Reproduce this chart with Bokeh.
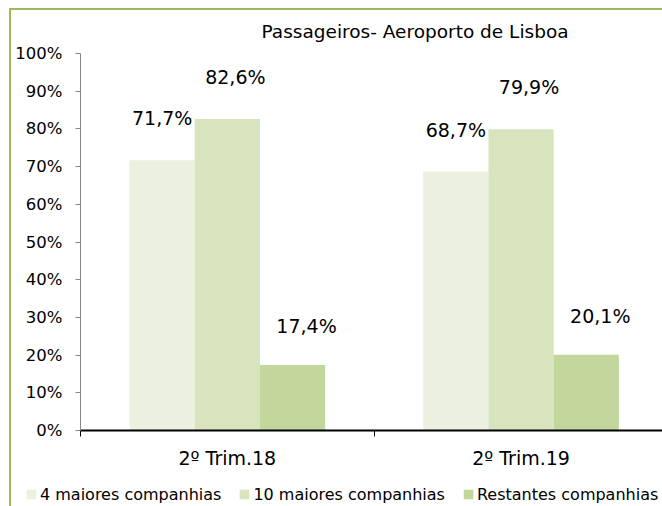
from bokeh.plotting import figure
from bokeh.layouts import column
from bokeh.models import ColumnDataSource, FixedTicker, Range1d, Legend, LegendItem
from bokeh.core.properties import value
from bokeh.embed import file_html
from bokeh.resources import INLINE

# ---- data ----
categories = ["2º Trim.18", "2º Trim.19"]
series_names = ["4 maiores companhias", "10 maiores companhias", "Restantes companhias"]
maiores4 = [71.7, 68.7]
maiores10 = [82.6, 79.9]
restantes = [17.4, 20.1]
y_ticks = [0, 10, 20, 30, 40, 50, 60, 70, 80, 90, 100]
y_tick_labels = ["0%", "10%", "20%", "30%", "40%", "50%", "60%", "70%", "80%", "90%", "100%"]
title_text = "Passageiros- Aeroporto de Lisboa"

# ---- styles ----
FONT = "DejaVu Sans"
colors = ["#EBF1DE", "#D7E4BD", "#C3D69B"]
bar_w = 0.222
bar_shift = [-bar_w, 0.0, bar_w]
label_dx = [0, 8, 14]
label_dy = [-42, -42, -39]
GREEN = "#9BBB59"
W, H_MAIN, H_LEG = 662, 482, 24

p = figure(width=W, height=H_MAIN, output_backend="svg", toolbar_location=None,
           x_range=Range1d(0, 1.9816), y_range=Range1d(0, 100),
           min_border_left=80, min_border_right=0, min_border_top=53, min_border_bottom=52)
p.frame_align = False
p.background_fill_color = "white"
p.border_fill_alpha = 0
p.outline_line_color = None
p.xgrid.visible = False
p.ygrid.visible = False
p.styles = {
    "background": (f"linear-gradient({GREEN}, {GREEN}) 9px 8px / 2px 100% no-repeat, "
                   f"linear-gradient({GREEN}, {GREEN}) 9px 8px / 100% 2px no-repeat, white"),
}

all_series = [maiores4, maiores10, restantes]
sources = []
for k, vals in enumerate(all_series):
    xs = [i + 0.5 + bar_shift[k] for i in range(len(categories))]
    labels = [("%.1f" % v).replace(".", ",") + "%" for v in vals]
    src = ColumnDataSource(dict(x=xs, top=vals, label=labels))
    sources.append(src)
    p.vbar(x="x", top="top", width=bar_w, source=src, fill_color=colors[k], line_color=None)
    p.text(x="x", y="top", text="label", source=src, text_font=value(FONT),
           text_font_size="19px", text_color="black", text_align="center",
           text_baseline="middle", x_offset=label_dx[k], y_offset=label_dy[k])

# y axis
ya = p.yaxis[0]
ya.ticker = FixedTicker(ticks=y_ticks)
ya.major_label_overrides = {t: l for t, l in zip(y_ticks, y_tick_labels)}
ya.axis_line_color = "#868686"
ya.major_tick_line_color = "#868686"
ya.major_tick_out = 5
ya.major_tick_in = 0
ya.minor_tick_line_color = None
ya.major_label_standoff = 13
ya.major_label_text_font = FONT
ya.major_label_text_font_size = "16.5px"
ya.major_label_text_color = "black"

# x axis
xa = p.xaxis[0]
centers = [i + 0.5 for i in range(len(categories))]
xa.ticker = FixedTicker(ticks=centers, minor_ticks=list(range(len(categories) + 1)))
xa.major_label_overrides = {c: n for c, n in zip(centers, categories)}
xa.axis_line_color = "black"
xa.axis_line_width = 2
xa.major_tick_line_color = None
xa.major_tick_out = 0
xa.major_tick_in = 0
xa.minor_tick_line_color = "black"
xa.minor_tick_line_width = 1
xa.minor_tick_out = 6
xa.minor_tick_in = 0
xa.major_label_standoff = 10
xa.major_label_text_font = FONT
xa.major_label_text_font_size = "19px"
xa.major_label_text_color = "black"

# title
p.title.text = title_text
p.title.align = "left"
p.title.offset = 181
p.title.text_font = FONT
p.title.text_font_size = "18.5px"
p.title.text_font_style = "normal"
p.title.text_color = "black"
p.title.standoff = 24

# legend strip (separate small figure directly below; its ranges keep the bars out of view)
q = figure(width=W, height=H_LEG, output_backend="svg", toolbar_location=None,
           x_range=Range1d(10, 10 + W), y_range=Range1d(200, 200 + H_LEG),
           x_axis_location=None, y_axis_location=None,
           min_border_left=0, min_border_right=0, min_border_top=0, min_border_bottom=0)
q.frame_align = False
q.background_fill_alpha = 0
q.border_fill_alpha = 0
q.outline_line_color = None
q.xgrid.visible = False
q.ygrid.visible = False
q.styles = {
    "background": f"linear-gradient({GREEN}, {GREEN}) 9px 0px / 2px 100% no-repeat, white",
}
items = []
for k in range(len(series_names)):
    r = q.vbar(x="x", top="top", width=bar_w, source=sources[k],
               fill_color=colors[k], line_color=None)
    items.append(LegendItem(label=series_names[k], renderers=[r]))
leg = Legend(items=items, orientation="horizontal", location=(25, 2),
             glyph_width=12, glyph_height=12, label_standoff=3, spacing=17,
             padding=0, margin=0, label_height=20,
             label_text_font=FONT, label_text_font_size="16px", label_text_color="black",
             border_line_color=None, background_fill_alpha=0)
q.add_layout(leg, "center")

layout = column(p, q, spacing=0)
open("out.html", "w").write(file_html(layout, INLINE))
